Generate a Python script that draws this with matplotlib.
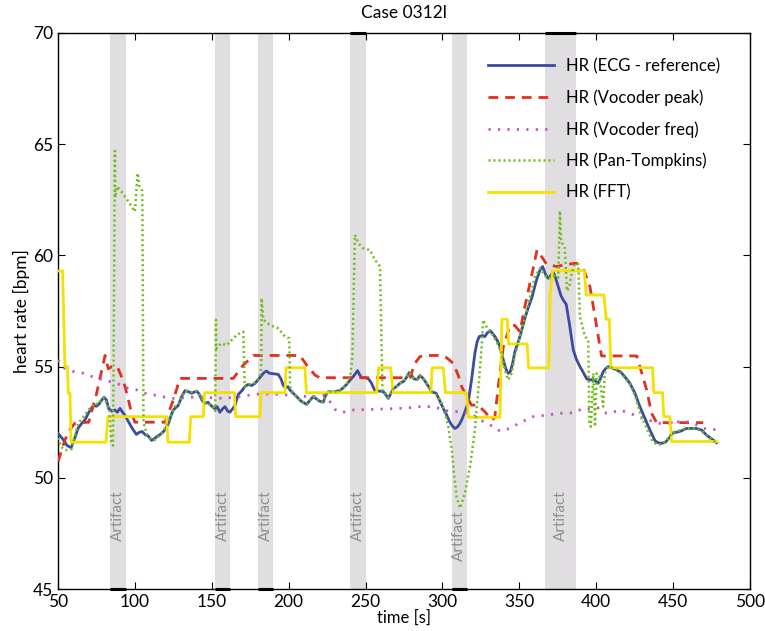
import matplotlib
matplotlib.use("Agg")
import matplotlib.pyplot as plt

plt.rcParams['font.family'] = ['Lato', 'DejaVu Sans']

title = "Case 0312l"
xlabel = "time [s]"
ylabel = "heart rate [bpm]"
series_labels = ["HR (ECG - reference)", "HR (Vocoder peak)", "HR (Vocoder freq)",
                 "HR (Pan-Tompkins)", "HR (FFT)"]
artifact_start = [84, 152, 180, 240, 306, 367]
artifact_end = [94, 162, 190, 250, 316, 387]
artifact_label_y = [48.3, 48.3, 48.3, 48.3, 47.4, 48.3]
artifact_edge_y = [45, 45, 45, 70, 45, 70]
xticks = [50, 100, 150, 200, 250, 300, 350, 400, 450, 500]
yticks = [45, 50, 55, 60, 65, 70]

ecg_t = [50, 53, 56, 58.5, 60.5, 63.2, 65.5, 67.5, 69.7, 71.5,
         73, 75, 76.5, 78.5, 80, 81.5, 83, 85, 87, 88.5,
         90.3, 92, 93.6, 96, 98.5, 101, 103, 104.8, 106.5, 108.7,
         110.9, 112.5, 114.2, 116.5, 118.5, 120.3, 121.7, 123.5, 125, 126.5,
         128.2, 130.4, 132.6, 134.5, 136.9, 138.5, 140.2, 142, 143.5, 145.6,
         147.5, 149.5, 152.1, 153.5, 155.3, 157, 158.6, 160.3, 161.8, 163.5,
         165.1, 167.2, 169.4, 171.5, 173.7, 176, 178.1, 180, 181.8, 183.5,
         185.5, 187.5, 190, 193.2, 195, 196.5, 198, 199.5, 200.8, 203,
         205.2, 208, 211.7, 214, 216, 218, 220, 222.5, 224, 225.8,
         229, 231.5, 233.3, 235.5, 237.7, 240, 242, 244.8, 246, 247.4,
         250, 251.8, 253.5, 256.1, 259, 261.5, 263, 264.8, 266.5, 268,
         270, 272.4, 275, 276.5, 278.4, 280, 281.5, 283.6, 285.4, 287,
         288.6, 291, 293, 296, 298, 299.5, 301, 302.7, 304.5, 306,
         308, 309.5, 311, 312.5, 314.5, 316.8, 318.9, 321.1, 322.5, 323.9,
         326, 327.6, 329, 330.9, 332.5, 334.1, 335.8, 337.4, 338.8, 340,
         341.5, 342.8, 344, 345.5, 347.1, 350.4, 353.6, 356, 358, 360,
         361.2, 363.5, 365.1, 367, 368.8, 370.5, 372, 373.5, 375.3, 377,
         378.5, 380.5, 382.5, 385.1, 387, 389.4, 391.5, 393.8, 395.9, 398,
         399.5, 401.3, 403, 404.5, 406, 407.8, 410, 413.2, 416, 418.5,
         421.9, 425.2, 428.4, 431.7, 434.9, 438.2, 440, 442.5, 445, 447.5,
         450, 452.5, 455, 458.7, 462, 465, 468.5, 471.7, 475, 478.3]
ecg_hr = [52.0, 51.75, 51.45, 51.35, 51.7, 52.25, 52.45, 52.6, 52.9, 53.1,
          53.25, 53.22, 53.3, 53.5, 53.62, 53.5, 53.1, 53.0, 53.05, 52.95,
          53.12, 52.95, 52.8, 52.5, 52.2, 51.95, 52.05, 52.08, 51.95, 51.88,
          51.68, 51.75, 51.85, 51.95, 52.07, 52.25, 52.4, 52.8, 53.05, 53.15,
          53.25, 53.65, 53.92, 53.88, 53.8, 53.85, 53.9, 53.75, 53.5, 53.35,
          53.4, 53.25, 53.1, 53.2, 52.95, 53.1, 53.2, 53.0, 52.95, 53.1,
          53.25, 53.75, 53.9, 54.1, 54.2, 54.15, 54.25, 54.4, 54.55, 54.7,
          54.8, 54.7, 54.68, 54.65, 54.45, 54.15, 54.05, 54.1, 53.95, 53.8,
          53.65, 53.45, 53.3, 53.5, 53.65, 53.55, 53.45, 53.4, 53.7, 53.87,
          53.85, 53.9, 53.92, 54.05, 54.2, 54.4, 54.55, 54.82, 54.65, 54.5,
          54.5, 54.45, 54.3, 53.92, 53.9, 53.88, 53.75, 53.57, 53.8, 54.0,
          54.1, 54.25, 54.35, 54.5, 54.73, 54.6, 54.45, 54.42, 54.6, 54.5,
          54.35, 54.1, 53.87, 53.8, 53.5, 53.27, 53.05, 52.83, 52.55, 52.37,
          52.22, 52.27, 52.4, 52.6, 52.95, 53.4, 54.4, 55.6, 56.1, 56.35,
          56.4, 56.35, 56.5, 56.62, 56.5, 56.35, 56.15, 55.9, 55.5, 55.2,
          54.85, 54.7, 54.75, 55.1, 55.67, 56.35, 57.17, 57.7, 58.07, 58.6,
          58.9, 59.35, 59.5, 59.15, 58.97, 59.1, 59.25, 59.0, 58.6, 58.2,
          58.0, 57.8, 56.95, 55.75, 55.35, 55.0, 54.75, 54.45, 54.4, 54.42,
          54.35, 54.25, 54.5, 54.77, 54.9, 55.0, 54.95, 54.85, 54.75, 54.55,
          54.25, 53.8, 53.2, 52.67, 52.15, 51.67, 51.58, 51.55, 51.6, 51.8,
          52.03, 52.05, 52.1, 52.22, 52.22, 52.22, 52.15, 51.92, 51.75, 51.58]

vpeak_t = [50, 54.5, 58, 61, 64.3, 70, 75.1, 80.6, 82.7, 85,
           88.5, 91, 93.6, 97.9, 100, 119.6, 125, 129.3, 164, 170.5,
           177, 207.3, 211.7, 217.1, 220.3, 278.9, 282.1, 285.4, 288, 299.5,
           302.7, 307, 310.3, 312.5, 315.7, 318.9, 323, 327.6, 332, 334,
           336.3, 339.6, 343.9, 347, 350.4, 353.6, 356.9, 361.5, 364.5, 367.8,
           374.2, 381, 387.2, 391.5, 395.9, 399.2, 402.4, 403.5, 426.3, 428.4,
           432.8, 436, 439.3, 469.6]
vpeak_hr = [50.73, 51.7, 52.2, 52.45, 52.48, 52.5, 53.8, 55.5, 54.9, 55.0,
            55.0, 54.6, 54.1, 52.9, 52.5, 52.5, 53.5, 54.47, 54.47, 55.07,
            55.5, 55.5, 55.07, 54.62, 54.5, 54.5, 55.15, 55.45, 55.5, 55.5,
            55.4, 55.15, 54.6, 54.1, 53.65, 53.27, 53.27, 52.97, 52.6, 52.7,
            54.1, 55.9, 56.85, 56.85, 56.57, 57.7, 58.75, 60.24, 59.94, 59.6,
            59.5, 59.6, 59.65, 59.42, 58.6, 57.25, 55.9, 55.48, 55.48, 55.0,
            53.95, 52.9, 52.48, 52.48]

vfreq_t = [50, 54.5, 60, 66.5, 74, 80, 88.1, 95.7, 101.2, 106.6,
           114.2, 120, 125, 133, 142.3, 150, 157.5, 165, 174.8, 182.4,
           190, 200, 210, 218.2, 223, 226.9, 230.1, 234.4, 242, 252,
           263.7, 275, 285.4, 294, 302.7, 308, 313.6, 320, 326.5, 333,
           337.4, 343.9, 350.4, 359.1, 367.8, 376.4, 385.1, 391.5, 395, 399.2,
           402, 406.7, 411, 415.4, 421.9, 430.6, 437, 443.5, 450, 456,
           462, 469.6, 479.3]
vfreq_hr = [55.3, 54.92, 54.78, 54.7, 54.5, 54.4, 54.25, 54.02, 53.95, 53.8,
            53.7, 53.62, 53.57, 53.6, 53.65, 53.6, 53.57, 53.62, 53.72, 53.78,
            53.76, 53.72, 53.66, 53.65, 53.72, 53.42, 53.08, 52.93, 53.05, 53.07,
            53.1, 53.13, 53.2, 53.2, 53.02, 52.98, 52.97, 52.82, 52.53, 52.3,
            52.1, 52.22, 52.48, 52.75, 52.82, 52.9, 52.92, 53.12, 53.1, 53.12,
            53.15, 52.9, 52.95, 53.05, 52.9, 52.67, 52.53, 52.4, 52.5, 52.53,
            52.5, 52.22, 52.15]

pt_t = [50, 52, 54.5, 57, 58.9, 61, 63.2, 66, 69.7, 72,
        74.1, 76.2, 78, 80, 82, 83.5, 84.5, 85.8, 86.8, 87.0,
        87.2, 88.5, 92, 96, 100, 101.8, 103, 104.8, 105.6, 107.5,
        110.9, 113, 116, 118.5, 121, 123.5, 126, 128.5, 130.4, 133.7,
        136.9, 140, 142, 144, 146.7, 149, 151, 152.2, 152.7, 152.9,
        153.6, 156.4, 159.5, 163, 166.2, 170.5, 171.4, 173.7, 178.1, 180.2,
        181.8, 182.2, 182.4, 183.5, 187.8, 193.2, 197.6, 200.4, 200.9, 203,
        205.2, 208, 211.7, 214, 216, 218, 220, 222.5, 224, 225.8,
        229, 233.3, 237.7, 240.3, 241.5, 242.3, 243.1, 245.3, 248.5, 252.9,
        256.1, 259.4, 261, 262.5, 264.8, 266.5, 268, 270, 272.4, 275,
        276.5, 278.4, 280, 281.5, 283.6, 285.4, 287, 288.6, 291, 293,
        296, 299, 301.6, 303.8, 306, 307.5, 309.2, 311.4, 314.6, 317.9,
        321.1, 323.3, 325.5, 326.5, 329.1, 332, 335.2, 338.5, 340.6, 342.8,
        345, 347.1, 350.4, 353.6, 356.5, 360.1, 363.4, 366.6, 368, 371,
        373.5, 375.3, 376.4, 377.2, 379.5, 381, 382.5, 384, 386.2, 388.3,
        389.4, 392.7, 394.8, 395.5, 396.5, 398.1, 399.2, 400.3, 402, 404.5,
        405.5, 407.8, 410, 413.2, 416, 418.5, 421.9, 425.2, 428.4, 431.7,
        434.9, 437, 440, 442.5, 445, 447.5, 450, 452.5, 455, 458.7,
        462, 465, 468.5, 471.7, 475, 478.3]
pt_hr = [51.8, 51.4, 51.25, 51.25, 51.3, 51.9, 52.45, 52.7, 53.05, 53.2,
         53.35, 53.3, 53.5, 53.6, 53.3, 53.0, 51.6, 51.45, 62.4, 64.7,
         62.6, 63.1, 62.8, 62.4, 61.97, 63.7, 63.1, 62.9, 52.5, 52.0,
         51.7, 51.7, 51.9, 52.1, 52.4, 52.8, 53.2, 53.3, 53.7, 53.9,
         53.85, 53.9, 53.75, 53.5, 53.3, 53.3, 53.2, 53.0, 57.1, 55.8,
         55.9, 56.05, 55.95, 56.2, 56.42, 56.57, 54.1, 54.2, 54.28, 54.45,
         54.7, 55.2, 58.07, 57.1, 56.87, 56.72, 56.35, 56.27, 54.1, 53.8,
         53.65, 53.45, 53.3, 53.5, 53.65, 53.55, 53.45, 53.4, 53.7, 53.87,
         53.85, 53.92, 54.2, 54.7, 55.5, 58.5, 60.92, 60.54, 60.32, 60.24,
         59.8, 59.5, 53.9, 53.85, 53.6, 53.8, 54.0, 54.1, 54.25, 54.35,
         54.5, 54.73, 54.6, 54.45, 54.42, 54.6, 54.5, 54.35, 54.1, 53.87,
         53.75, 53.4, 52.9, 52.3, 51.3, 50.2, 49.15, 48.63, 49.3, 50.5,
         52.15, 53.95, 55.9, 57.1, 56.72, 56.5, 56.12, 55.6, 54.85, 54.4,
         54.7, 55.5, 56.35, 57.2, 58.0, 59.04, 59.42, 59.12, 58.97, 59.0,
         59.1, 59.0, 62.0, 60.6, 60.4, 58.4, 58.6, 59.2, 59.65, 59.6,
         57.25, 56.35, 56.2, 52.45, 52.3, 54.7, 52.3, 54.7, 54.6, 53.2,
         54.7, 55.0, 54.95, 54.85, 54.7, 54.5, 54.2, 53.7, 52.95, 52.4,
         51.9, 51.58, 51.5, 51.5, 51.6, 51.85, 52.05, 52.1, 52.15, 52.22,
         52.25, 52.2, 52.1, 51.9, 51.72, 51.55]

fft_t = [50, 53.0, 54.5, 56.2, 56.7, 57.8, 58.5, 81.2, 82.5, 120.6,
         121.5, 135.4, 136.3, 144.5, 145.3, 164.7, 165.5, 181.3, 182, 197.6,
         198.3, 210.6, 211.5, 257.2, 258.5, 266.3, 268, 292.5, 293.3, 300.5,
         302, 315.7, 317, 337.4, 338.7, 342.1, 343, 355.1, 356, 369.2,
         370, 371.6, 392.2, 393.5, 405, 406.5, 408.5, 409.5, 436.6, 437.5,
         443.1, 444, 447.9, 449, 478.3]
fft_hr = [59.3, 59.3, 55.0, 55.0, 53.8, 53.8, 51.6, 51.6, 52.75, 52.75,
          51.6, 51.6, 52.75, 52.75, 53.83, 53.83, 52.75, 52.75, 53.83, 53.83,
          54.95, 54.95, 53.83, 53.83, 54.95, 54.95, 53.83, 53.83, 54.95, 54.95,
          53.83, 53.83, 52.72, 52.72, 57.13, 57.13, 56.02, 56.02, 54.94, 54.94,
          58.22, 59.31, 59.31, 58.22, 58.22, 57.13, 57.13, 54.95, 54.95, 53.83,
          53.83, 52.75, 52.75, 51.63, 51.63]

fig = plt.figure(figsize=(7.65, 6.31), dpi=100)
ax = fig.add_axes([58 / 765, 1 - 589 / 631, 692 / 765, 556 / 631])

for s, e, ly, ey in zip(artifact_start, artifact_end, artifact_label_y, artifact_edge_y):
    ax.axvspan(s, e, color='#e0dee0', lw=0, zorder=0)
    ax.plot([s, e], [ey, ey], color='black', lw=2.2, solid_capstyle='butt',
            clip_on=False, zorder=5)
    ax.text((s + e) / 2, ly, "Artifact", rotation=90, ha='center', va='center',
            color='#8f8f8f', fontsize=11, zorder=1)

ax.plot(ecg_t, ecg_hr, color='#3c4ba0', lw=2.0, label=series_labels[0], zorder=3)
ax.plot(vpeak_t, vpeak_hr, color='#e0301e', lw=2.0, ls=(0, (3.5, 2.5)), label=series_labels[1], zorder=3)
ax.plot(vfreq_t, vfreq_hr, color='#c653c6', lw=2.0, ls=(0, (0.8, 2.6)), label=series_labels[2], zorder=3)
ax.plot(pt_t, pt_hr, color='#6cbf14', lw=1.8, ls=(0, (0.8, 1.2)), label=series_labels[3], zorder=4)
ax.plot(fft_t, fft_hr, color='#f5e000', lw=2.0, label=series_labels[4], zorder=3)

ax.set_xlim(50, 500)
ax.set_ylim(45, 70)
ax.set_xticks(xticks)
ax.set_yticks(yticks)
ax.tick_params(direction='in', top=True, right=True, length=5, width=0.8, labelsize=12.5)
for sp in ax.spines.values():
    sp.set_linewidth(1.0)
ax.set_title(title, fontsize=12.5, pad=11)
ax.set_xlabel(xlabel, fontsize=12, labelpad=0)
ax.set_ylabel(ylabel, fontsize=12.5, labelpad=2)

leg = ax.legend(loc='upper left', bbox_to_anchor=(0.621, 0.955), frameon=False,
                fontsize=12, handlelength=4.0, handletextpad=0.7,
                labelspacing=0.91, borderaxespad=0, borderpad=0)

fig.savefig("out.png", dpi=100)
